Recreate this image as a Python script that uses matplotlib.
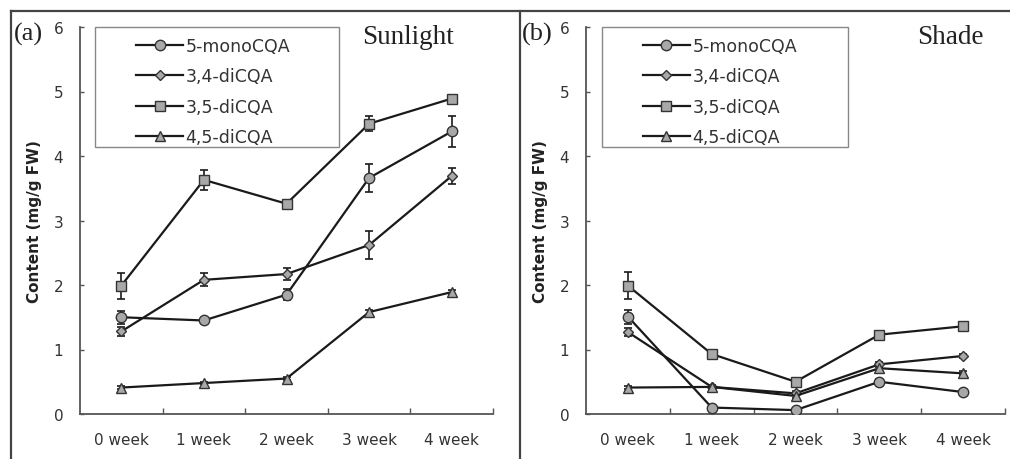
import matplotlib
matplotlib.use('Agg')
import matplotlib.pyplot as plt
from matplotlib.lines import Line2D
from matplotlib.patches import Rectangle

# categories
weeks = ['0 week', '1 week', '2 week', '3 week', '4 week']
names = ['5-monoCQA', '3,4-diCQA', '3,5-diCQA', '4,5-diCQA']

# (a) Sunlight
sun_mono = [1.50, 1.45, 1.85, 3.66, 4.38]
sun_mono_err = [0.10, 0.04, 0.09, 0.22, 0.24]
sun_34 = [1.28, 2.08, 2.17, 2.62, 3.69]
sun_34_err = [0.07, 0.10, 0.09, 0.22, 0.12]
sun_35 = [1.99, 3.63, 3.26, 4.50, 4.89]
sun_35_err = [0.20, 0.16, 0.04, 0.12, 0.03]
sun_45 = [0.41, 0.48, 0.55, 1.58, 1.89]
sun_45_err = [0.02, 0.02, 0.03, 0.04, 0.04]

# (b) Shade
shade_mono = [1.51, 0.10, 0.06, 0.50, 0.34]
shade_mono_err = [0.11, 0.02, 0.02, 0.04, 0.03]
shade_34 = [1.27, 0.42, 0.32, 0.77, 0.90]
shade_34_err = [0.06, 0.03, 0.03, 0.04, 0.03]
shade_35 = [1.99, 0.93, 0.50, 1.23, 1.36]
shade_35_err = [0.21, 0.05, 0.04, 0.04, 0.03]
shade_45 = [0.41, 0.42, 0.28, 0.71, 0.63]
shade_45_err = [0.02, 0.02, 0.03, 0.03, 0.03]

markers = [('o', 7.5), ('D', 5.0), ('s', 7.0), ('^', 7.5)]
fill = '#a8a8a8'
ink = '#1a1a1a'
axis_col = '#555555'
text_col = '#333333'

W, H = 1010, 460
fig = plt.figure(figsize=(W / 100, H / 100), dpi=100)


def px_axes(x0, x1, y0, y1):
  return fig.add_axes([x0 / W, 1 - y1 / H, (x1 - x0) / W, (y1 - y0) / H])


def draw_panel(ax, series, errs):
  x = list(range(len(weeks)))
  handles = []
  for (m, ms), vals, err, name in zip(markers, series, errs, names):
    ax.errorbar(x, vals, yerr=err, fmt='none', ecolor=ink, elinewidth=1.2,
                capsize=3, capthick=1.2, zorder=2)
    h, = ax.plot(x, vals, color=ink, lw=1.6, marker=m, markersize=ms,
                 markerfacecolor=fill, markeredgecolor='#333333',
                 markeredgewidth=1.0, label=name, zorder=3)
    handles.append(h)

  ax.set_xlim(-0.5, 4.5)
  ax.set_ylim(0, 6)
  ax.set_yticks(range(0, 7))
  ax.set_xticks(x)
  ax.set_xticklabels(weeks)
  ax.set_xticks([0.5, 1.5, 2.5, 3.5, 4.5], minor=True)
  for s in ['top', 'right']:
    ax.spines[s].set_visible(False)
  for s in ['left', 'bottom']:
    ax.spines[s].set_color(axis_col)
    ax.spines[s].set_linewidth(1.3)
  ax.tick_params(axis='x', which='major', length=0, pad=13, labelsize=11,
                 labelcolor=text_col)
  ax.tick_params(axis='x', which='minor', direction='in', length=4,
                 width=1.0, color=axis_col)
  ax.tick_params(axis='y', direction='in', length=3, width=1.0,
                 color=axis_col, pad=12, labelsize=11, labelcolor=text_col)
  ax.set_ylabel('Content (mg/g FW)', fontsize=11, fontweight='bold',
                color='#222222', labelpad=8)

  # legend box is wider than its contents in the original
  ax.add_patch(Rectangle((0.037, 0.69), 0.589, 0.31, transform=ax.transAxes,
                         fill=False, edgecolor='#888888', lw=1.0,
                         clip_on=False, zorder=5))
  ax.legend(handles=handles, loc='upper left', bbox_to_anchor=(0.136, 0.975),
            frameon=False, fontsize=12.5, handlelength=2.7,
            handletextpad=0.15, labelspacing=0.72, borderpad=0,
            borderaxespad=0, labelcolor=text_col)
  return ax


ax1 = px_axes(80, 493, 28, 415)
draw_panel(ax1, [sun_mono, sun_34, sun_35, sun_45],
           [sun_mono_err, sun_34_err, sun_35_err, sun_45_err])
ax2 = px_axes(586, 1005, 28, 415)
draw_panel(ax2, [shade_mono, shade_34, shade_35, shade_45],
           [shade_mono_err, shade_34_err, shade_35_err, shade_45_err])

serif = ['Liberation Serif', 'DejaVu Serif']
fig.text(14 / W, 1 - 34 / H, '(a)', family=serif, fontsize=19, va='center',
         color='#222222')
fig.text(522 / W, 1 - 34 / H, '(b)', family=serif, fontsize=19, va='center',
         color='#222222')
fig.text(408 / W, 1 - 38 / H, 'Sunlight', family=serif, fontsize=19.5,
         ha='center', va='center', color='#222222')
fig.text(950 / W, 1 - 38 / H, 'Shade', family=serif, fontsize=19.5,
         ha='center', va='center', color='#222222')

# outer frame and divider
frame = dict(color='#444444', lw=1.6, transform=fig.transFigure)
fig.add_artist(Line2D([11 / W, 1], [1 - 12 / H, 1 - 12 / H], **frame))
fig.add_artist(Line2D([11 / W, 11 / W], [0, 1 - 12 / H], **frame))
fig.add_artist(Line2D([520 / W, 520 / W], [0, 1 - 12 / H], **frame))

fig.savefig('out.png', dpi=100)
